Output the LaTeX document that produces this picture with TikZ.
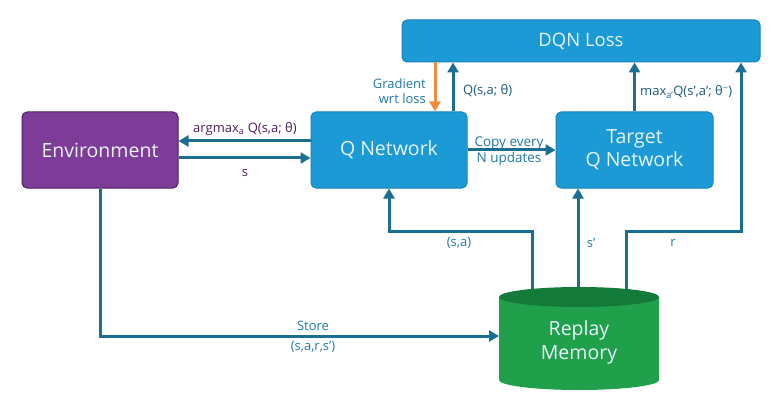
\documentclass[tikz,border=0pt]{standalone}
\usepackage{fontspec}
\setmainfont{Open Sans}
\usetikzlibrary{arrows.meta}
\definecolor{boxblue}{HTML}{1B9AD6}
\definecolor{boxedge}{HTML}{1682B8}
\definecolor{arrowc}{HTML}{1A6E91}
\definecolor{envfill}{HTML}{7D3C98}
\definecolor{envedge}{HTML}{4B1E5E}
\definecolor{memfill}{HTML}{21A04B}
\definecolor{memtop}{HTML}{137A3A}
\definecolor{gradc}{HTML}{F28C3C}
\definecolor{lblblue}{HTML}{1E78A8}
\definecolor{lbldark}{HTML}{1A5A80}
\definecolor{boxtext}{HTML}{E8F4FB}
\tikzset{
  x=1pt, y=-1pt,
  bluebox/.style={draw=boxedge, line width=1pt, fill=boxblue, rounded corners=5pt, text=boxtext, font=\fontsize{19.5}{23}\selectfont, align=center, inner sep=0pt},
  envbox/.style={draw=envedge, line width=1pt, fill=envfill, rounded corners=5pt, text=boxtext, font=\fontsize{19.5}{23}\selectfont, inner sep=0pt},
  conn/.style={draw=arrowc, line width=3pt, -{Triangle[length=10pt,width=11pt]}},
  gradconn/.style={draw=gradc, line width=3pt, -{Triangle[length=10pt,width=11pt]}},
  lbl/.style={font=\fontsize{13}{15.5}\selectfont, text=lblblue, inner sep=0pt, align=center},
}
\begin{document}
\begin{tikzpicture}
\useasboundingbox (0,0) rectangle (778,414);
% boxes
\node[bluebox, minimum width=358pt, minimum height=42pt, font=\fontsize{18.5}{21}\selectfont] (loss) at (581,41) {DQN Loss};
\node[envbox, minimum width=156pt, minimum height=76pt] (env) at (100,150) {Environment};
\node[bluebox, minimum width=156pt, minimum height=76pt] (qnet) at (389,150) {Q Network};
\node[bluebox, minimum width=157pt, minimum height=76pt] (tnet) at (634.5,150) {Target\\Q Network};
% replay memory anchors
\coordinate (m1) at (532,291);
\coordinate (m2) at (578,289);
\coordinate (m3) at (626,291);
\node[inner sep=0pt, minimum width=160pt, minimum height=103pt] (mem) at (579,338) {};
% connectors
\draw[conn] ([yshift=9pt]qnet.west) -- ([yshift=9pt]env.east);
\draw[conn] ([yshift=-8pt]env.east) -- ([yshift=-8pt]qnet.west);
\draw[conn] ([xshift=64pt]qnet.north) -- ([xshift=64pt]qnet.north |- loss.south);
\draw[gradconn] (435,62) coordinate (g0) -- (g0 |- qnet.north);
\draw[conn] (qnet.east) -- (tnet.west);
\draw[conn] (tnet.north) -- (tnet.north |- loss.south);
\coordinate (b1) at (532,231);
\coordinate (b3) at (626,231);
\coordinate (e1) at (env.south |- 0,336);
\draw[conn] (m1) -- (b1) -- (b1 -| qnet.south) -- (qnet.south);
\draw[conn] (m2) -- (m2 |- tnet.south);
\draw[conn] (m3) -- (b3) -- (741,231) coordinate (b4) -- (b4 |- loss.south);
\draw[conn] (env.south) -- (e1) -- (499,336);
% cylinder drawing
\fill[memfill] (499,297) -- (499,380) arc[start angle=180, end angle=360, x radius=80pt, y radius=10pt] -- (659,297) -- cycle;
\fill[memtop] (579,297) ellipse [x radius=80pt, y radius=10pt];
\node[text=boxtext, font=\fontsize{19.5}{24}\selectfont, align=center] at (579,342) {Replay\\Memory};
% labels
\node[lbl, text=envedge] at (245,129) {argmax\textsubscript{a} Q(s,a; θ)};
\node[lbl, text=envedge] at (245,173) {s};
\node[lbl, anchor=east, align=right] at (426,91) {Gradient\\wrt loss};
\node[lbl, text=lbldark, anchor=west] at (463,91) {Q(s,a; θ)};
\node[lbl, font=\fontsize{13.5}{16}\selectfont] at (509,151) {Copy every\\N updates};
\node[lbl, text=lbldark, anchor=west] at (640,92) {max\textsubscript{a’}Q(s’,a’; θ\textsuperscript{−})};
\node[lbl] at (459,243) {(s,a)};
\node[lbl] at (591,243) {s’};
\node[lbl] at (673,243) {r};
\node[lbl] at (313,337) {Store\\[4pt](s,a,r,s’)};
\end{tikzpicture}
\end{document}
